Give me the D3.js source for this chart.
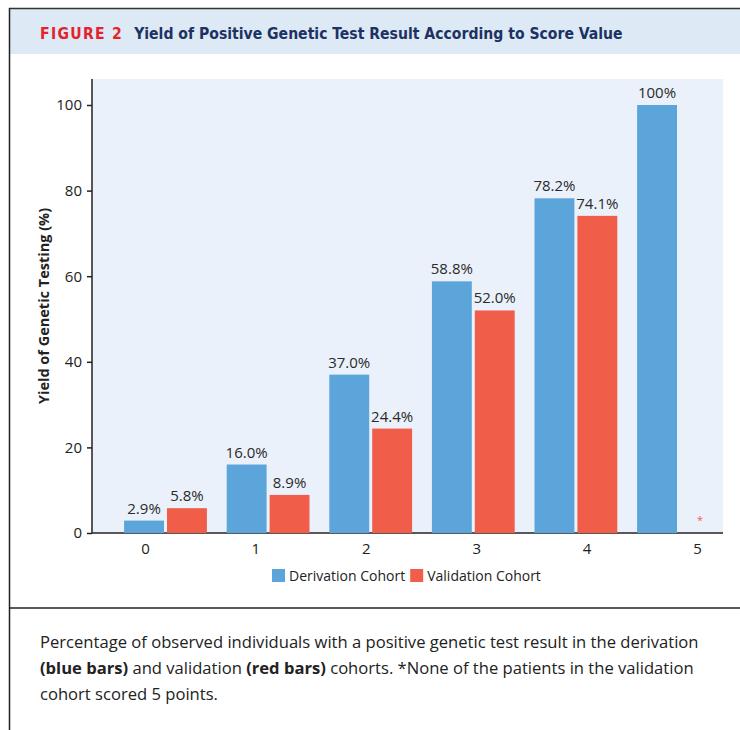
<!DOCTYPE html>
<html><head><meta charset="utf-8">
<script src="https://cdn.jsdelivr.net/npm/d3@7"></script>
<style>
html,body{margin:0;padding:0;background:#fff;}
svg{display:block;}
</style></head>
<body>
<svg id="chart" width="740" height="730"></svg>
<script>
const categories = ["0","1","2","3","4","5"];
const derivation = [2.9, 16.0, 37.0, 58.8, 78.2, 100];
const validation = [5.8, 8.9, 24.4, 52.0, 74.1, null];
const derivationLabels = ["2.9%","16.0%","37.0%","58.8%","78.2%","100%"];
const validationLabels = ["5.8%","8.9%","24.4%","52.0%","74.1%","*"];
const yTicks = [0, 20, 40, 60, 80, 100];
const seriesNames = ["Derivation Cohort", "Validation Cohort"];
const colors = ["#5ba5da", "#f05e49"];

const svg = d3.select("#chart");
const FONT = "'Open Sans', sans-serif";

// frame
svg.append("rect").attr("x", 10).attr("y", 9).attr("width", 730).attr("height", 45).attr("fill", "#dde9f5");
svg.append("line").attr("x1", 9).attr("x2", 740).attr("y1", 8.5).attr("y2", 8.5).attr("stroke", "#333").attr("stroke-width", 1.5);
svg.append("line").attr("x1", 9.5).attr("x2", 9.5).attr("y1", 8).attr("y2", 730).attr("stroke", "#222").attr("stroke-width", 1.5);
svg.append("line").attr("x1", 9).attr("x2", 740).attr("y1", 608).attr("y2", 608).attr("stroke", "#222").attr("stroke-width", 1.5);

// header text
const ht = svg.append("text").attr("x", 40).attr("y", 39).attr("font-family", "'DejaVu Sans Condensed','DejaVu Sans',sans-serif").attr("font-weight", "bold").attr("font-size", 15.6);
ht.append("tspan").attr("fill", "#e3232c").attr("letter-spacing", 1.3).text("FIGURE 2");
ht.append("tspan").attr("fill", "#1c3262").attr("dx", 11).text("Yield of Positive Genetic Test Result According to Score Value");

// plot
const plotL = 92, plotR = 723, plotT = 79, plotB = 533;
svg.append("rect").attr("x", plotL).attr("y", plotT).attr("width", plotR - plotL).attr("height", plotB - plotT).attr("fill", "#ebf1fa");

const y = d3.scaleLinear().domain([0, 100]).range([plotB, 105]);
const xTick = d3.scalePoint().domain(categories).range([145, 697]);
const xGroup = d3.scalePoint().domain(categories).range([165.5, 678.5]);
const xSub = d3.scaleBand().domain([0, 1]).range([-41.4, 41.4]).paddingInner(0.07);

// y axis
const yAxis = svg.append("g").attr("transform", `translate(${plotL},0)`)
  .call(d3.axisLeft(y).tickValues(yTicks).tickSize(5).tickPadding(5).tickFormat(d3.format("d")));
yAxis.select(".domain").attr("d", `M0,${plotT}V${plotB}`).attr("stroke", "#222").attr("stroke-width", 1.5);
yAxis.selectAll(".tick line").attr("stroke", "#222").attr("stroke-width", 1.5);
yAxis.selectAll(".tick text").attr("font-family", FONT).attr("font-size", 15).attr("fill", "#222");

// x axis
const xAxis = svg.append("g").attr("transform", `translate(0,${plotB})`)
  .call(d3.axisBottom(xTick).tickSize(0).tickPadding(10));
xAxis.select(".domain").attr("d", `M${plotL},0H${plotR}`).attr("stroke", "#222").attr("stroke-width", 1.5);
xAxis.selectAll(".tick text").attr("font-family", FONT).attr("font-size", 15).attr("fill", "#222");

// y title
svg.append("text").attr("transform", `translate(49,${(plotT + plotB) / 2}) rotate(-90)`)
  .attr("text-anchor", "middle").attr("font-family", FONT).attr("font-weight", "bold").attr("font-size", 14.5).attr("fill", "#222")
  .text("Yield of Genetic Testing (%)");

// bars
const series = [derivation, validation];
const labels = [derivationLabels, validationLabels];
series.forEach((vals, si) => {
  const g = svg.append("g");
  categories.forEach((c, i) => {
    const v = vals[i];
    const bx = xGroup(c) + xSub(si);
    const bw = xSub.bandwidth();
    if (v != null) {
      g.append("rect").attr("x", bx).attr("y", y(v)).attr("width", bw).attr("height", y(0) - y(v)).attr("fill", colors[si]);
      g.append("text").attr("x", bx + bw / 2).attr("y", y(v) - 7).attr("text-anchor", "middle")
        .attr("font-family", FONT).attr("font-size", 15).attr("fill", "#2a2a2a").text(labels[si][i]);
    } else {
      g.append("text").attr("x", xTick(c) + 3).attr("y", y(0) - 9).attr("text-anchor", "middle")
        .attr("font-family", FONT).attr("font-size", 11).attr("fill", colors[si]).text(labels[si][i]);
    }
  });
});

// legend
const lg = svg.append("g").attr("transform", "translate(272,569)");
let lx = 0;
seriesNames.forEach((n, i) => {
  lg.append("rect").attr("x", lx).attr("y", 0).attr("width", 13).attr("height", 13).attr("fill", colors[i]);
  const t = lg.append("text").attr("x", lx + 17).attr("y", 12).attr("font-family", FONT).attr("font-size", 14).attr("fill", "#222").text(n);
  lx += 17 + t.node().getComputedTextLength() + 5;
});

// caption
const cap = svg.append("text").attr("font-family", FONT).attr("font-size", 16.6).attr("fill", "#222");
cap.append("tspan").attr("x", 40).attr("y", 648).text("Percentage of observed individuals with a positive genetic test result in the derivation");
const l2 = cap.append("tspan").attr("x", 40).attr("y", 674);
l2.append("tspan").attr("font-weight", "bold").text("(blue bars)");
l2.append("tspan").text(" and validation ");
cap.append("tspan").attr("font-weight", "bold").text("(red bars)");
cap.append("tspan").text(" cohorts. *None of the patients in the validation");
cap.append("tspan").attr("x", 40).attr("y", 700).text("cohort scored 5 points.");
</script>
</body></html>
